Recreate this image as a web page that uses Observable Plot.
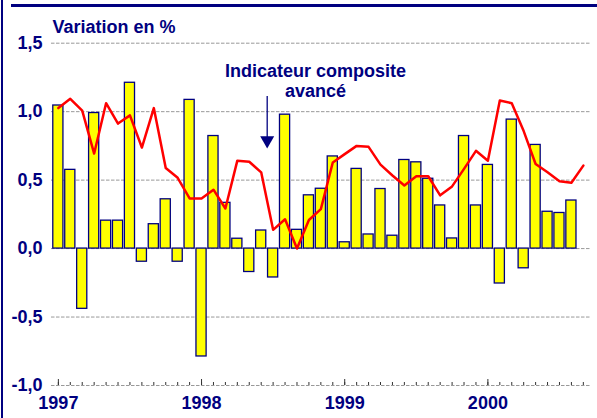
<!DOCTYPE html>
<html><head><meta charset="utf-8">
<script src="https://cdn.jsdelivr.net/npm/d3@7"></script>
<script src="https://cdn.jsdelivr.net/npm/@observablehq/plot@0.6"></script>
<style>
body{margin:0;background:#fff;}
#wrap{position:relative;width:597px;height:418px;overflow:hidden;}
#lborder{position:absolute;left:1px;top:0;width:2px;height:418px;background:#000080;}
#tborder{position:absolute;left:11px;top:4px;width:586px;height:3px;background:#000080;}
</style></head><body>
<div id="wrap"><div id="chart"></div><div id="lborder"></div><div id="tborder"></div></div>
<script>
// ---- data ----
const years = ["1997", "1998", "1999", "2000"];
const monthNums = ["01","02","03","04","05","06","07","08","09","10","11","12"];
const months = years.flatMap(y => monthNums.map(m => `${y}-${m}`)).slice(0, 45);
// monthly change (bars), Jan 1997 .. Aug 2000
const barValues = [1.045, 0.575, -0.44, 0.99, 0.204, 0.204, 1.211, -0.096, 0.178, 0.36,
  -0.096, 1.086, -0.788, 0.822, 0.334, 0.072, -0.171, 0.132, -0.211, 0.978,
  0.137, 0.389, 0.437, 0.673, 0.046, 0.582, 0.103, 0.435, 0.094, 0.647,
  0.63, 0.51, 0.315, 0.074, 0.822, 0.315, 0.611, -0.255, 0.942, -0.144,
  0.757, 0.269, 0.26, 0.351];
// leading composite indicator (line), Jan 1997 .. Sep 2000
const lineValues = [1.026, 1.094, 1.007, 0.694, 1.062, 0.913, 0.973, 0.738, 1.026, 0.589,
  0.517, 0.366, 0.366, 0.430, 0.293, 0.642, 0.634, 0.557, 0.137, 0.214,
  0.0, 0.209, 0.288, 0.629, 0.69, 0.75, 0.743, 0.613, 0.534, 0.461,
  0.528, 0.528, 0.389, 0.454, 0.582, 0.714, 0.642, 1.081, 1.062, 0.858,
  0.618, 0.557, 0.492, 0.481, 0.606];
const yTicks = [-1, -0.5, 0, 0.5, 1, 1.5];
const yearMonths = months.filter(m => m.endsWith("-01"));
const titleText = "Variation en %";
const annotLines = ["Indicateur composite", "avancé"];
const annotArrow = [{month: "1998-06", from: 1.11, to: 0.79}];

// ---- chart ----
const NAVY = "#000080";
const FONT = "'Liberation Sans', Arial, sans-serif";
const bars = barValues.map((v, i) => ({month: months[i], value: v}));
const line = lineValues.map((v, i) => ({month: months[i], value: v}));
const fmt = d => d.toFixed(1).replace(".", ",");
const textStyle = {fontSize: 18, fontWeight: "bold", fill: NAVY};

const chart = Plot.plot({
  width: 597, height: 418,
  marginLeft: 51, marginRight: 7.3, marginTop: 42.7, marginBottom: 33,
  style: {fontFamily: FONT, background: "transparent", overflow: "visible"},
  x: {type: "band", domain: months, padding: 0.15, align: 0.5, axis: null, label: null},
  y: {domain: [-1, 1.5], axis: null, label: null},
  marks: [
    Plot.ruleY(yTicks, {stroke: "#999", strokeDasharray: "3.5,1.5", strokeWidth: 1}),
    Plot.barY(bars, {x: "month", y: "value", fill: "#ffff00", stroke: NAVY, strokeWidth: 1.3}),
    Plot.line(line, {x: "month", y: "value", stroke: "#ff0000", strokeWidth: 2.5, strokeLinejoin: "round"}),
    Plot.ruleX(months, {x: d => d, y1: -1, y2: -1, insetTop: -3, stroke: "#333", strokeWidth: 1}),
    Plot.ruleX(yearMonths, {x: d => d, y1: -1, y2: -1, insetTop: -6, stroke: "#333", strokeWidth: 1}),
    Plot.axisY(yTicks, {tickSize: 0, tickPadding: 9, tickFormat: fmt, label: null, ...textStyle, fontFamily: FONT}),
    Plot.axisX(yearMonths, {tickSize: 0, tickPadding: 11, tickFormat: d => d.slice(0, 4), label: null, ...textStyle, fontFamily: FONT}),
    Plot.text([titleText], {frameAnchor: "top-left", dx: 1, dy: -10.7, text: d => d, textAnchor: "start", lineAnchor: "bottom", ...textStyle}),
    Plot.text([annotLines[0]], {frameAnchor: "top-left", dx: 264, dy: 33.8, text: d => d, textAnchor: "middle", lineAnchor: "bottom", ...textStyle}),
    Plot.text([annotLines[1]], {frameAnchor: "top-left", dx: 264, dy: 53.5, text: d => d, textAnchor: "middle", lineAnchor: "bottom", ...textStyle}),
    Plot.ruleX(annotArrow, {x: "month", y1: "from", y2: "to", dx: 6, stroke: NAVY, strokeWidth: 1.3}),
    Plot.dot(annotArrow, {x: "month", y: "to", dx: 6, symbol: "triangle", rotate: 180, r: 5.2, fill: NAVY, stroke: "none"})
  ]
});
document.getElementById("chart").appendChild(chart);
</script>
</body></html>
